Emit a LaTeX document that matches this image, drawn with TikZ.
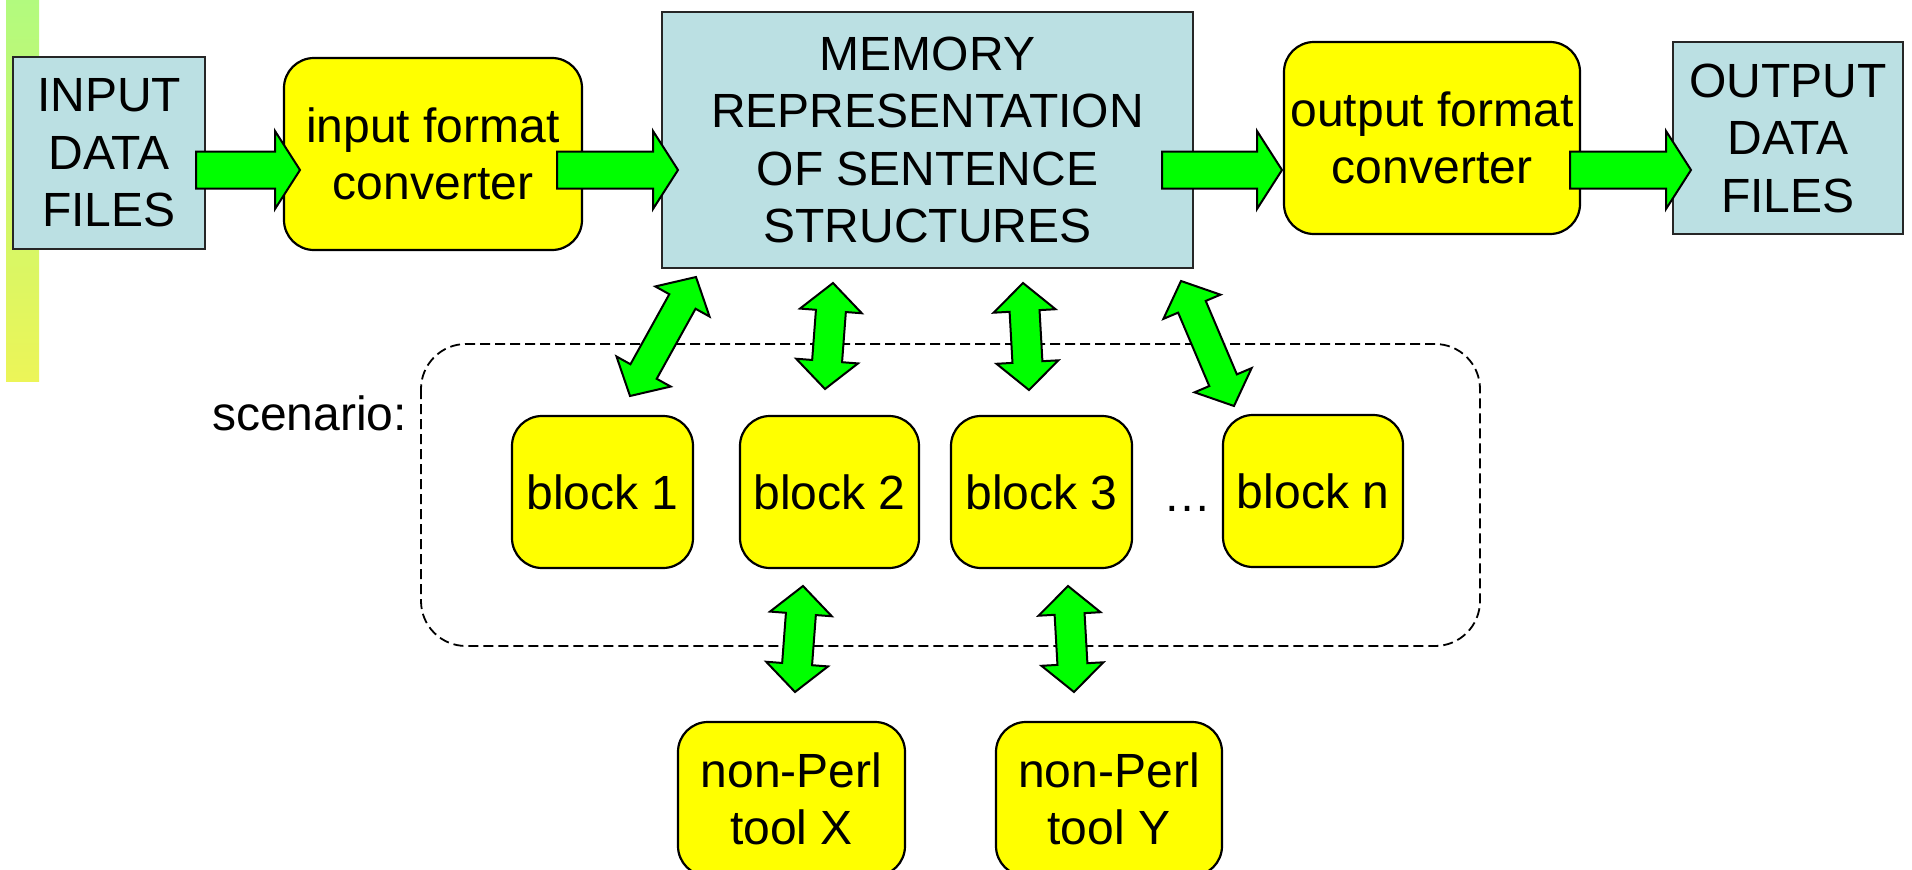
\documentclass[tikz,border=0pt]{standalone}
\usepackage{fontspec}
\setmainfont{Liberation Sans}
\usetikzlibrary{calc}

\definecolor{boxblue}{HTML}{BBE0E3}
\definecolor{boxyellow}{HTML}{FFFF00}
\definecolor{arrowgreen}{HTML}{00FF00}
\definecolor{stripetop}{HTML}{B2FA7E}
\definecolor{stripebot}{HTML}{ECF558}

\newcommand{\diagfont}{\fontsize{48}{57.5}\selectfont}

\tikzset{
  datafile/.style={draw=black!85, line width=2pt, fill=boxblue, align=center,
    inner sep=0pt, font=\diagfont},
  proc/.style={draw=black, line width=2.2pt, fill=boxyellow, rounded corners=30pt,
    align=center, inner sep=0pt, font=\diagfont},
  frame/.style={draw=black, line width=1.8pt, dash pattern=on 10pt off 5pt,
    rounded corners=45pt},
  flow/.style={draw=black, line width=2pt, fill=arrowgreen, line join=miter},
  plain/.style={inner sep=0pt, font=\diagfont},
}

% one-headed block arrow from #1 to #2 (tip at #2)
\newcommand{\flowarrow}[2]{%
  \path ($(#2)!25pt!(#1)$) coordinate (hb);
  \draw[flow] ($(#1)!18.5pt!90:(#2)$) -- ($(hb)!18.5pt!-90:(#1)$)
    -- ($(hb)!39pt!-90:(#1)$) -- (#2) -- ($(hb)!39pt!90:(#1)$)
    -- ($(hb)!18.5pt!90:(#1)$) -- ($(#1)!18.5pt!-90:(#2)$) -- cycle;
}
% two-headed block arrow between #1 and #2
\newcommand{\flowdbl}[2]{%
  \path ($(#1)!28pt!(#2)$) coordinate (hp) ($(#2)!28pt!(#1)$) coordinate (hq);
  \draw[flow] (#1) -- ($(hp)!31pt!90:(#2)$) -- ($(hp)!15pt!90:(#2)$)
    -- ($(hq)!15pt!-90:(#1)$) -- ($(hq)!31pt!-90:(#1)$) -- (#2)
    -- ($(hq)!31pt!90:(#1)$) -- ($(hq)!15pt!90:(#1)$)
    -- ($(hp)!15pt!-90:(#2)$) -- ($(hp)!31pt!-90:(#2)$) -- cycle;
}

\begin{document}
\begin{tikzpicture}[x=1pt, y=-1pt]
\useasboundingbox (0,0) rectangle (1912,870);
\fill[white] (0,0) rectangle (1912,870);

% decorative side stripe
\fill[top color=stripetop, bottom color=stripebot] (6,0) rectangle (39,381);

% scenario frame
\draw[frame] (421,344) rectangle (1480,646);
\node[plain, anchor=base east] (scen) at (407,430) {scenario:};

% main pipeline
\node[datafile, minimum width=192pt, minimum height=192pt] (in) at (109,153)
  {INPUT\\DATA\\FILES};
\node[proc, minimum width=298pt, minimum height=192pt] (inconv) at (433,154)
  {input format\\converter};
\node[datafile, minimum width=531pt, minimum height=256pt] (mem) at (927.5,140)
  {MEMORY\\REPRESENTATION\\OF SENTENCE\\STRUCTURES};
\node[proc, minimum width=296pt, minimum height=192pt] (outconv) at (1432,138)
  {output format\\converter};
\node[datafile, minimum width=230pt, minimum height=192pt] (out) at (1788,138)
  {OUTPUT\\DATA\\FILES};

% scenario blocks
\node[proc, minimum width=181pt, minimum height=152pt] (b1) at (602.5,492) {block 1};
\node[proc, minimum width=179pt, minimum height=152pt] (b2) at (829.5,492) {block 2};
\node[proc, minimum width=181pt, minimum height=152pt] (b3) at (1041.5,492) {block 3};
\node[plain, anchor=base] (dots) at (1187,511) {…};
\node[proc, minimum width=180pt, minimum height=152pt] (bn) at (1313,491) {block n};

% external tools
\node[proc, minimum width=227pt, minimum height=154pt] (tx) at (791.5,799)
  {non-Perl\\tool X};
\node[proc, minimum width=226pt, minimum height=154pt] (ty) at (1109,799)
  {non-Perl\\tool Y};

% arrow end points
\coordinate (a1s) at (196,170);  \coordinate (a1e) at (300,170);
\coordinate (a2s) at (557,170);  \coordinate (a2e) at (678,170);
\coordinate (a3s) at (1162,170); \coordinate (a3e) at (1282,170);
\coordinate (a4s) at (1570,170); \coordinate (a4e) at (1691,170);

\coordinate (m1) at (696,277);  \coordinate (k1) at (630,396);
\coordinate (m2) at (833,283);  \coordinate (k2) at (825,389);
\coordinate (m3) at (1023,283); \coordinate (k3) at (1029,390);
\coordinate (m4) at (1181,281); \coordinate (k4) at (1234,406);
\coordinate (k5) at (803,586);  \coordinate (t1) at (795,692);
\coordinate (k6) at (1068,586); \coordinate (t2) at (1074,692);

% data flow
\flowarrow{a1s}{a1e}
\flowarrow{a2s}{a2e}
\flowarrow{a3s}{a3e}
\flowarrow{a4s}{a4e}

\flowdbl{m1}{k1}
\flowdbl{m2}{k2}
\flowdbl{m3}{k3}
\flowdbl{m4}{k4}
\flowdbl{k5}{t1}
\flowdbl{k6}{t2}
\end{tikzpicture}
\end{document}
